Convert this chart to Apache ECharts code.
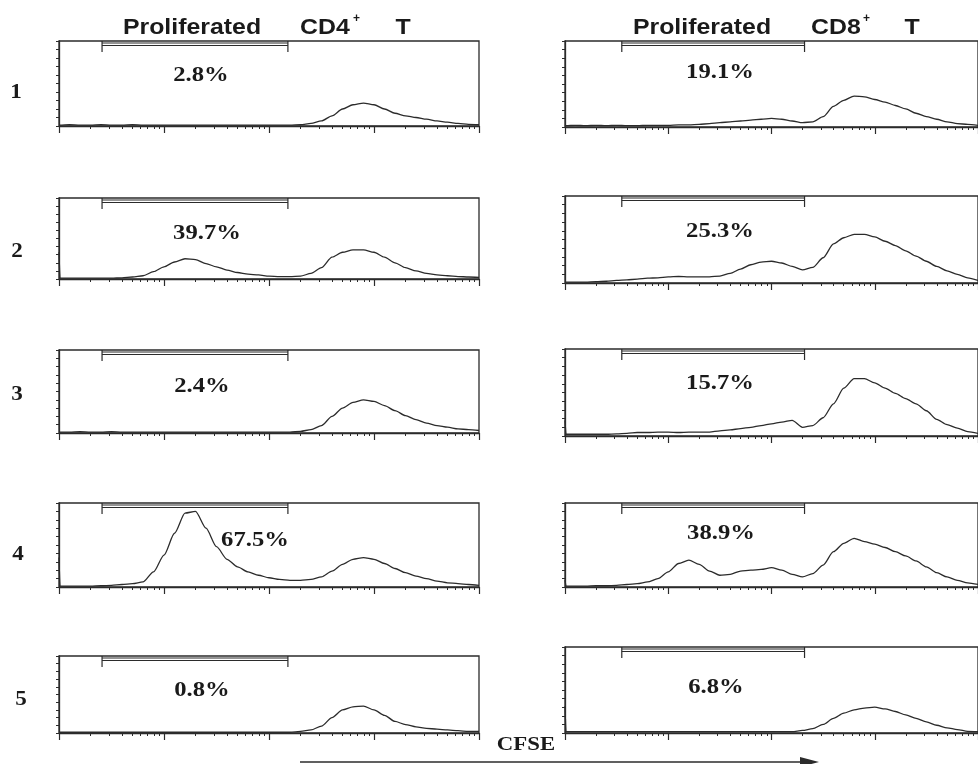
<!DOCTYPE html>
<html>
<head>
<meta charset="utf-8">
<script src="https://cdn.jsdelivr.net/npm/echarts@6/dist/echarts.min.js"></script>
<style>
html, body { margin: 0; padding: 0; background: #fff; }
#main { width: 978px; height: 764px; }
</style>
</head>
<body>
<div id="main"></div>
<script>
// CFSE channel, in decades (10^0 .. 10^4)
var logX = [0, 0.01, 0.1, 0.2, 0.3, 0.4, 0.5, 0.6, 0.7, 0.8, 0.9, 1.0,
    1.1, 1.2, 1.3, 1.4, 1.5, 1.6, 1.7, 1.8, 1.9, 2.0,
    2.1, 2.2, 2.3, 2.4, 2.5, 2.6, 2.7, 2.8, 2.9, 3.0,
    3.1, 3.2, 3.3, 3.4, 3.5, 3.6, 3.7, 3.8, 3.9, 4.0];

// counts, % of panel height
var cd4Row1 = [1, 1, 1.5, 1, 1, 1.5, 1, 1, 1.5, 1, 1, 1,
    1, 1, 1, 1, 1, 1, 1, 1, 1, 1,
    1, 1, 1.5, 3, 6, 12, 20, 25, 27, 25,
    20, 15, 12, 10, 8, 6, 4.5, 3, 2, 1.5];
var cd4Row2 = [33, 1, 1, 1, 1, 1, 1, 1.5, 2.5, 4, 9, 15,
    21, 25, 24, 19, 15, 11, 8, 6, 5, 3.5,
    3, 3, 3.5, 7, 14, 27, 33, 36, 36, 33,
    27, 20, 14, 10, 7, 5, 4, 3, 2.5, 2];
var cd4Row3 = [1, 1, 1, 1.5, 1, 1, 1.5, 1, 1, 1, 1, 1,
    1, 1, 1, 1, 1, 1, 1, 1, 1, 1,
    1, 1, 2, 4, 9, 20, 30, 37, 40, 38,
    33, 27, 21, 16, 12, 9, 7, 5, 4, 3];
var cd4Row4 = [35, 1, 1, 1, 1, 1.5, 2, 3, 4, 6, 18, 38,
    64, 88, 90, 70, 48, 33, 24, 18, 14, 11,
    9, 8, 8, 9, 12, 19, 27, 33, 35, 33,
    28, 22, 17, 13, 10, 7, 5, 4, 3, 2];
var cd4Row5 = [1, 1, 1, 1, 1, 1, 1, 1, 1, 1, 1, 1,
    1, 1, 1, 1, 1, 1, 1, 1, 1, 1,
    1, 1, 2, 4, 9, 20, 30, 34, 35, 30,
    23, 15, 11, 8, 6, 5, 4, 3, 2, 2];

var cd8Row1 = [2, 1.5, 2, 1.5, 2, 1.5, 2, 1.5, 1.5, 2, 2, 2,
    2.5, 2.5, 3, 4, 5, 6, 7, 8, 9, 10,
    9, 7, 5, 6, 12, 24, 31, 36, 35, 32,
    29, 25, 21, 16, 12, 9, 6, 4, 3, 2];
var cd8Row2 = [1, 1, 1, 1, 1.5, 2, 3, 3.5, 4.5, 5.5, 6, 7,
    7.5, 7, 7, 7, 8, 11, 16, 21, 24, 25,
    23, 19, 15, 18, 29, 45, 52, 56, 56, 53,
    48, 43, 37, 31, 25, 19, 14, 10, 6, 3];
var cd8Row3 = [18, 2, 2, 2, 2, 2, 2.5, 3, 4, 4, 4.5, 4.5,
    4, 4.5, 4.5, 4.5, 6, 7, 8.5, 10, 12, 14,
    16, 18, 10, 12, 21, 37, 55, 66, 66, 61,
    55, 49, 43, 37, 29, 19, 13, 9, 5, 3];
var cd8Row4 = [8, 1, 1, 1, 1.5, 1.5, 2, 3, 4, 6, 10, 18,
    28, 32, 27, 19, 14, 15, 19, 20, 21, 23,
    20, 15, 12, 16, 26, 42, 52, 58, 54, 51,
    47, 42, 37, 31, 24, 17, 12, 8, 5, 3];
var cd8Row5 = [31, 1.5, 1.5, 1.5, 1.5, 1.5, 1.5, 1.5, 1.5, 1.5, 1.5, 1.5,
    1.5, 1.5, 1.5, 1.5, 1.5, 1.5, 1.5, 1.5, 1.5, 1.5,
    1.5, 1.5, 3, 5, 10, 17, 23, 27, 29, 30,
    28, 25, 21, 17, 13, 9, 6, 4, 2, 1.5];

// "Proliferated" gates (decades)
var gateCD4 = [0.41, 2.18];
var gateCD8 = [0.55, 2.32];

var pctCD4 = ['2.8%', '39.7%', '2.4%', '67.5%', '0.8%'];
var pctCD8 = ['19.1%', '25.3%', '15.7%', '38.9%', '6.8%'];
var rowNames = ['1', '2', '3', '4', '5'];

var cd4Rows = [cd4Row1, cd4Row2, cd4Row3, cd4Row4, cd4Row5];
var cd8Rows = [cd8Row1, cd8Row2, cd8Row3, cd8Row4, cd8Row5];

// panel boxes [left, top, width, height]
var boxL = [[59, 41, 420, 85], [59, 198, 420, 81], [59, 350, 420, 83], [59, 503, 420, 84], [59, 656, 420, 77]];
var boxR = [[565, 41, 414, 86], [565, 196, 414, 87], [565, 349, 414, 87], [565, 503, 414, 84], [565, 647, 414, 86]];
var pctPosL = [[201, 75], [207, 233], [202, 386], [255, 540], [202, 690]];
var pctPosR = [[720, 72], [720, 231], [720, 383], [721, 533], [716, 687]];
var rowPos = [[16, 93], [17, 252], [17, 395], [18, 555], [21, 700]];

var ink = '#2b2b2b';

// minor ticks at 2..9 of each decade
var minorTicks = [];
for (var d = 0; d < 4; d++) {
    for (var m = 2; m <= 9; m++) minorTicks.push(d + Math.log10(m));
}

var grids = [], xAxes = [], yAxes = [], series = [];

function gateItem(params, api) {
    var a = api.coord([api.value(0), 100]);
    var b = api.coord([api.value(1), 100]);
    var st = { stroke: ink, lineWidth: 1.2 };
    return {
        type: 'group',
        children: [
            { type: 'line', shape: { x1: a[0], y1: a[1] + 2, x2: b[0], y2: b[1] + 2 }, style: st },
            { type: 'line', shape: { x1: a[0], y1: a[1] + 4.5, x2: b[0], y2: b[1] + 4.5 }, style: st },
            { type: 'line', shape: { x1: a[0], y1: a[1], x2: a[0], y2: a[1] + 11 }, style: st },
            { type: 'line', shape: { x1: b[0], y1: b[1], x2: b[0], y2: b[1] + 11 }, style: st }
        ]
    };
}

function addPanel(box, values, gate) {
    var g = grids.length;
    grids.push({
        left: box[0], top: box[1], width: box[2], height: box[3],
        show: true, borderColor: ink, borderWidth: 1.3, backgroundColor: 'transparent'
    });
    xAxes.push({
        type: 'value', gridIndex: g, position: 'bottom', min: 0, max: 4, interval: 1,
        axisLine: { show: true, lineStyle: { color: ink, width: 1.3 } },
        axisTick: { show: true, length: 7, lineStyle: { color: ink, width: 1.2 } },
        axisLabel: { show: false }, splitLine: { show: false }
    });
    xAxes.push({
        type: 'value', gridIndex: g, position: 'bottom', min: 0, max: 4,
        axisLine: { show: false },
        axisTick: { show: true, length: 3, customValues: minorTicks, lineStyle: { color: ink, width: 1 } },
        axisLabel: { show: false }, splitLine: { show: false }
    });
    yAxes.push({
        type: 'value', gridIndex: g, min: 0, max: 100, interval: 10,
        axisLine: { show: true, lineStyle: { color: ink, width: 1.3 } },
        axisTick: { show: true, length: 3, lineStyle: { color: ink, width: 1 } },
        axisLabel: { show: false }, splitLine: { show: false }
    });
    var pts = [];
    for (var i = 0; i < logX.length; i++) pts.push([logX[i], values[i]]);
    series.push({
        type: 'line', xAxisIndex: 2 * g, yAxisIndex: g, data: pts,
        symbol: 'none', smooth: 0.25, smoothMonotone: 'x',
        lineStyle: { color: ink, width: 1.3 }
    });
    series.push({
        type: 'custom', xAxisIndex: 2 * g, yAxisIndex: g,
        data: [gate], encode: { x: [0, 1] },
        renderItem: gateItem, silent: true
    });
}

for (var r = 0; r < 5; r++) {
    addPanel(boxL[r], cd4Rows[r], gateCD4);
    addPanel(boxR[r], cd8Rows[r], gateCD8);
}

var serifB = 'bold 22px "Liberation Serif", "Times New Roman", serif';
var sansB = 'bold 22px "Liberation Sans", Arial, sans-serif';

function txt(s, x, y, font, align, sx) {
    return {
        type: 'text', x: x, y: y, scaleX: sx || 1,
        style: { text: s, font: font, fill: '#1a1a1a', align: align || 'center', verticalAlign: 'middle' }
    };
}

var graphics = [];
for (var k = 0; k < 5; k++) {
    graphics.push(txt(pctCD4[k], pctPosL[k][0], pctPosL[k][1], serifB, 'center', 1.12));
    graphics.push(txt(pctCD8[k], pctPosR[k][0], pctPosR[k][1], serifB, 'center', 1.12));
    graphics.push(txt(rowNames[k], rowPos[k][0], rowPos[k][1], 'bold 21px "Liberation Serif", serif', 'center', 1.1));
}
// headers
graphics.push(txt('Proliferated', 192, 28, sansB, 'center', 1.13));
graphics.push(txt('CD4', 300, 28, sansB, 'left', 1.13));
graphics.push(txt('+', 353, 19, 'bold 12px "Liberation Sans", Arial, sans-serif', 'left'));
graphics.push(txt('T', 403, 28, sansB, 'center', 1.13));
graphics.push(txt('Proliferated', 702, 28, sansB, 'center', 1.13));
graphics.push(txt('CD8', 811, 28, sansB, 'left', 1.13));
graphics.push(txt('+', 863, 19, 'bold 12px "Liberation Sans", Arial, sans-serif', 'left'));
graphics.push(txt('T', 912, 28, sansB, 'center', 1.13));
// CFSE arrow
graphics.push(txt('CFSE', 526, 745, 'bold 19px "Liberation Serif", serif', 'center', 1.2));
graphics.push({ type: 'line', shape: { x1: 300, y1: 762, x2: 805, y2: 762 }, style: { stroke: ink, lineWidth: 1.5 } });
graphics.push({ type: 'polygon', shape: { points: [[800, 757], [819, 762], [800, 767]] }, style: { fill: ink } });

var option = {
    animation: false,
    backgroundColor: '#fff',
    grid: grids,
    xAxis: xAxes,
    yAxis: yAxes,
    series: series,
    graphic: graphics
};

var chart = echarts.init(document.getElementById('main'));
chart.setOption(option);
</script>
</body>
</html>
